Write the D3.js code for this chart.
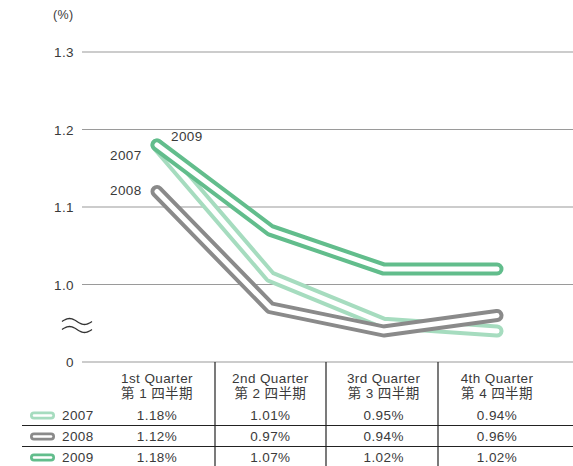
<!DOCTYPE html>
<html>
<head>
<meta charset="utf-8">
<style>
    body { margin: 0; background: #fff; }
    text { font-family: "Liberation Sans", "Noto Sans CJK JP", sans-serif; fill: #3a3a3a; letter-spacing: 0.4px }
    .grid { stroke: #9a9a9a; stroke-width: 1.2 }
    .rule { stroke: #222; stroke-width: 1.2 }
</style>
</head>
<body>
<svg id="container" width="573" height="466"></svg>
<script src="https://cdn.jsdelivr.net/npm/d3@7"></script>
<script>
    // data
    let quarters = ["1st Quarter", "2nd Quarter", "3rd Quarter", "4th Quarter"]
    let quartersJa = ["第 1 四半期", "第 2 四半期", "第 3 四半期", "第 4 四半期"]
    let years = ["2007", "2008", "2009"]
    let values2007 = [1.18, 1.01, 0.95, 0.94]
    let values2008 = [1.12, 0.97, 0.94, 0.96]
    let values2009 = [1.18, 1.07, 1.02, 1.02]
    let yTicks = [1.0, 1.1, 1.2, 1.3]
    let colors = ["#a6dcbf", "#8a8a8a", "#62bd8c"]

    let series = [values2007, values2008, values2009]

    let svg = d3.select("#container")

    let x = d3.scalePoint().domain(quarters).range([157, 497])
    let y = d3.scaleLinear().domain([1.0, 1.3]).range([284.5, 52])
    let zeroY = 362
    let fs = 13.5

    // gridlines
    svg.selectAll(".grid").data(yTicks).enter().append("line")
        .attr("class", "grid")
        .attr("x1", 82).attr("x2", 573)
        .attr("y1", d => y(d)).attr("y2", d => y(d))
    svg.append("line").attr("class", "grid")
        .attr("x1", 82).attr("x2", 573).attr("y1", zeroY).attr("y2", zeroY)

    svg.selectAll(".ytick").data(yTicks).enter().append("text")
        .attr("x", 74).attr("y", d => y(d) + 5)
        .attr("text-anchor", "end").attr("font-size", fs)
        .text(d => d.toFixed(1))
    svg.append("text").attr("x", 74).attr("y", zeroY + 5)
        .attr("text-anchor", "end").attr("font-size", fs).text("0")
    svg.append("text").attr("x", 53).attr("y", 19)
        .attr("font-size", 12.5).text("(%)")

    // axis break symbol
    let wave = d3.line().curve(d3.curveNatural)
    let waveFn = (ox, oy) => d3.range(0, 13).map(i => [ox + i * 2.5, oy - 3 * Math.sin(2 * Math.PI * i / 12)])
    ;[321.5, 329.5].forEach(oy => {
        svg.append("path").attr("d", wave(waveFn(62, oy)))
            .attr("fill", "none").attr("stroke", "#333").attr("stroke-width", 1.4)
    })

    // lines (outlined double stroke)
    let line = d3.line().x((d, i) => x(quarters[i])).y(d => y(d))
    series.forEach((s, k) => {
        svg.append("path").attr("d", line(s))
            .attr("fill", "none").attr("stroke", colors[k])
            .attr("stroke-width", 13).attr("stroke-linecap", "round").attr("stroke-linejoin", "round")
        svg.append("path").attr("d", line(s))
            .attr("fill", "none").attr("stroke", "#fff")
            .attr("stroke-width", 5).attr("stroke-linecap", "round").attr("stroke-linejoin", "round")
    })

    // series labels
    svg.append("text").attr("x", 171).attr("y", 141).attr("font-size", fs).text("2009")
    svg.append("text").attr("x", 110).attr("y", 160).attr("font-size", fs).text("2007")
    svg.append("text").attr("x", 110).attr("y", 195).attr("font-size", fs).text("2008")

    // table
    let colEdges = [215, 326, 438]
    svg.selectAll(".vsep").data(colEdges).enter().append("line")
        .attr("class", "rule")
        .attr("x1", d => d).attr("x2", d => d).attr("y1", zeroY).attr("y2", 466)

    svg.selectAll(".qh").data(quarters).enter().append("text")
        .attr("x", d => x(d)).attr("y", 383)
        .attr("text-anchor", "middle").attr("font-size", fs).text(d => d)
    svg.selectAll(".qj").data(quartersJa).enter().append("text")
        .attr("x", (d, i) => x(quarters[i])).attr("y", 398)
        .attr("text-anchor", "middle").attr("font-size", fs).text(d => d)

    let rowY = [420, 441, 462]
    years.forEach((yr, k) => {
        svg.append("line")
            .attr("x1", 34).attr("x2", 51).attr("y1", rowY[k] - 4.5).attr("y2", rowY[k] - 4.5)
            .attr("stroke", colors[k]).attr("stroke-width", 8).attr("stroke-linecap", "round")
        svg.append("line")
            .attr("x1", 34).attr("x2", 51).attr("y1", rowY[k] - 4.5).attr("y2", rowY[k] - 4.5)
            .attr("stroke", "#fff").attr("stroke-width", 2.5).attr("stroke-linecap", "round")
        svg.append("text").attr("x", 62).attr("y", rowY[k]).attr("font-size", fs).text(yr)
        svg.selectAll(".v" + yr).data(series[k]).enter().append("text")
            .attr("x", (d, i) => x(quarters[i])).attr("y", rowY[k])
            .attr("text-anchor", "middle").attr("font-size", fs)
            .text(d => d.toFixed(2) + "%")
        svg.append("line").attr("class", "rule")
            .attr("x1", 22).attr("x2", 573)
            .attr("y1", rowY[k] + 5.5).attr("y2", rowY[k] + 5.5)
    })
</script>
</body>
</html>
